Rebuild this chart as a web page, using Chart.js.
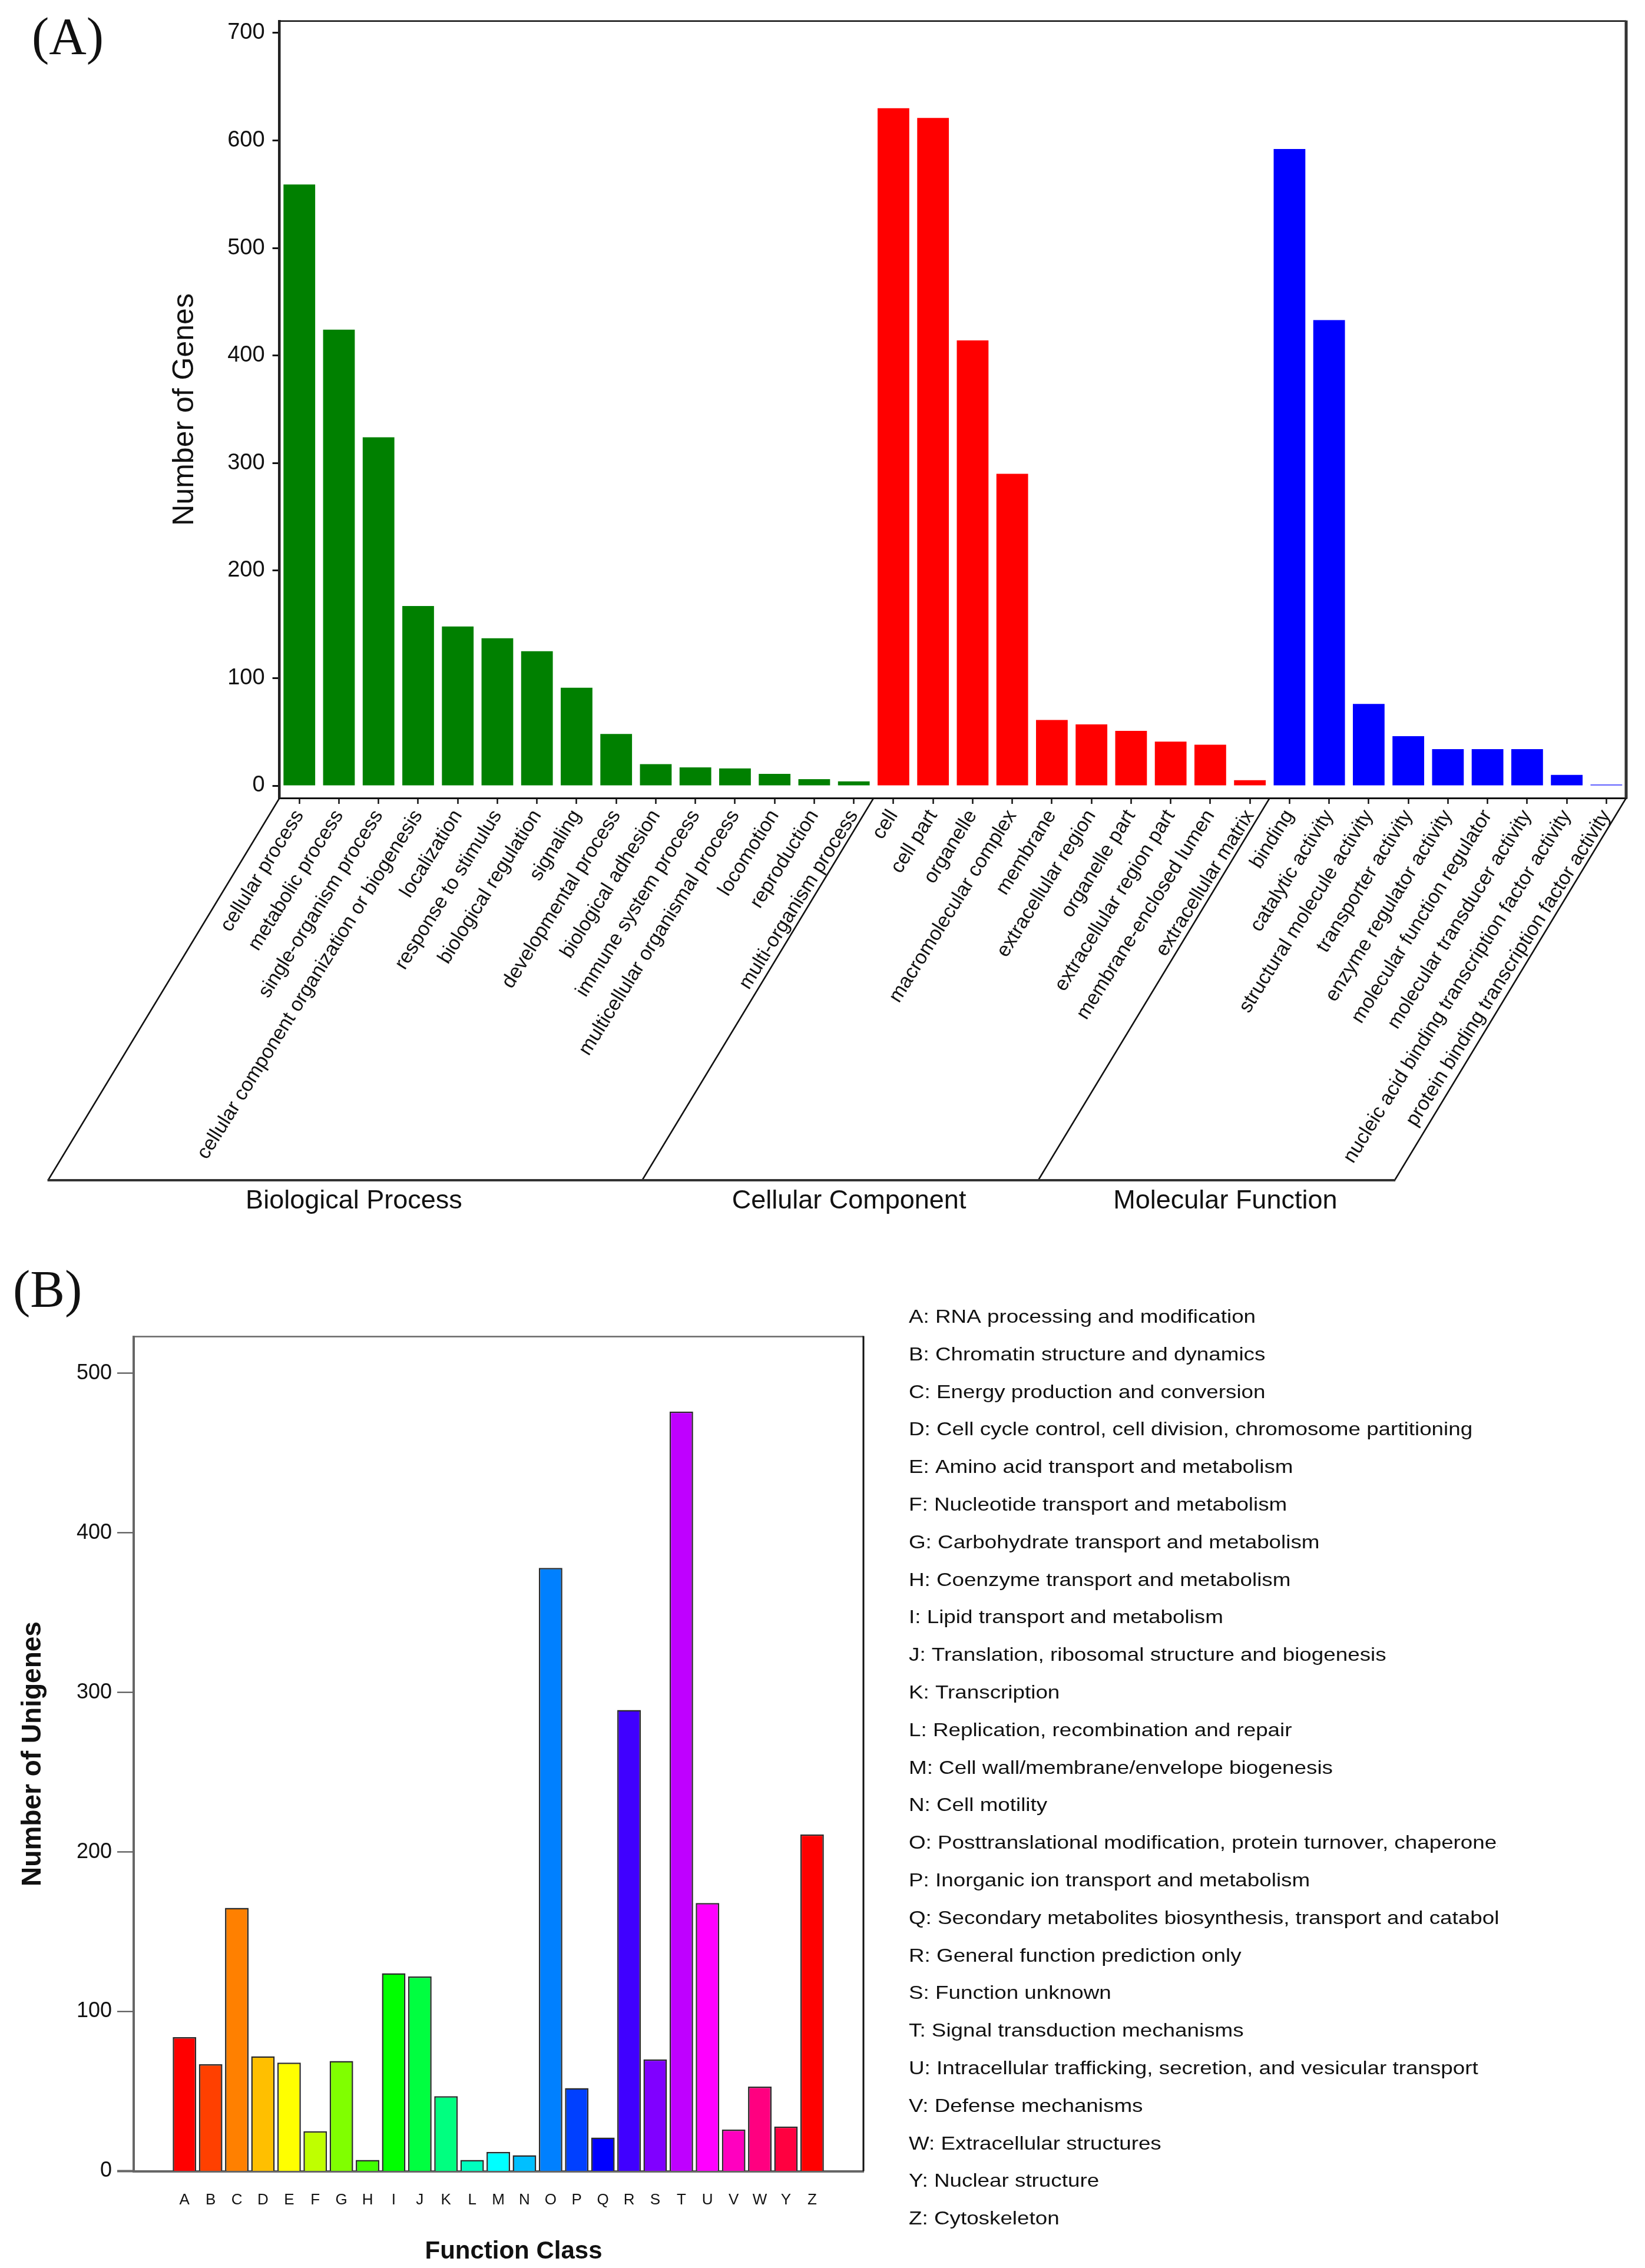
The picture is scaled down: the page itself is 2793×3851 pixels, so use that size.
<!DOCTYPE html>
<html><head><meta charset="utf-8">
<script src="https://cdn.jsdelivr.net/npm/chart.js@4.4.1/dist/chart.umd.min.js"></script>
<style>
html,body{margin:0;padding:0;background:#fff;}
#wrapA{position:absolute;left:0;top:0;width:2793px;height:2120px;}
#wrapB{position:absolute;left:0;top:2120px;width:2793px;height:1731px;}
canvas{display:block;}
</style></head><body>
<div id="wrapA"><canvas id="chartA" width="2793" height="2120" style="width:2793px;height:2120px"></canvas></div>
<div id="wrapB"><canvas id="chartB" width="2793" height="1731" style="width:2793px;height:1731px"></canvas></div>
<script>
// ---------- Panel A data (GO) ----------
const bpTerms = ['cellular process','metabolic process','single-organism process','cellular component organization or biogenesis','localization','response to stimulus','biological regulation','signaling','developmental process','biological adhesion','immune system process','multicellular organismal process','locomotion','reproduction','multi-organism process'];
const bpCounts = [559,424,324,167,148,137,125,91,48,20,17,16,11,6,4];
const ccTerms = ['cell','cell part','organelle','macromolecular complex','membrane','extracellular region','organelle part','extracellular region part','membrane-enclosed lumen','extracellular matrix'];
const ccCounts = [630,621,414,290,61,57,51,41,38,5];
const mfTerms = ['binding','catalytic activity','structural molecule activity','transporter activity','enzyme regulator activity','molecular function regulator','molecular transducer activity','nucleic acid binding transcription factor activity','protein binding transcription factor activity'];
const mfCounts = [592,433,76,46,34,34,34,10,1];
const goGroups = ['Biological Process','Cellular Component','Molecular Function'];
const goGroupColors = ['#008000','#ff0000','#0000ff'];
const goYTicks = [0,100,200,300,400,500,600,700];

// ---------- Panel B data (COG) ----------
const cogLetters = ['A','B','C','D','E','F','G','H','I','J','K','L','M','N','O','P','Q','R','S','T','U','V','W','Y','Z'];
const cogCounts = [84,67,165,72,68,25,69,7,124,122,47,7,12,10,378,52,21,289,70,476,168,26,53,28,211];
const cogNames = ['RNA processing and modification','Chromatin structure and dynamics','Energy production and conversion','Cell cycle control, cell division, chromosome partitioning','Amino acid transport and metabolism','Nucleotide transport and metabolism','Carbohydrate transport and metabolism','Coenzyme transport and metabolism','Lipid transport and metabolism','Translation, ribosomal structure and biogenesis','Transcription','Replication, recombination and repair','Cell wall/membrane/envelope biogenesis','Cell motility','Posttranslational modification, protein turnover, chaperones','Inorganic ion transport and metabolism','Secondary metabolites biosynthesis, transport and catabolism','General function prediction only','Function unknown','Signal transduction mechanisms','Intracellular trafficking, secretion, and vesicular transport','Defense mechanisms','Extracellular structures','Nuclear structure','Cytoskeleton'];
const cogColors = ['#ff0000','#ff4000','#ff8000','#ffbf00','#ffff00','#bfff00','#80ff00','#40ff00','#00ff00','#00ff40','#00ff80','#00ffbf','#00ffff','#00bfff','#0080ff','#0040ff','#0000ff','#4000ff','#8000ff','#bf00ff','#ff00ff','#ff00bf','#ff0080','#ff0040','#ff0000'];
const cogYTicks = [0,100,200,300,400,500];

const FONT = "'Liberation Sans', Arial, Helvetica, sans-serif";
const SERIF = "'Liberation Serif', 'Times New Roman', serif";
Chart.defaults.font.family = FONT;
Chart.defaults.color = '#111';

// build combined GO arrays
const goGroupTerms = [bpTerms, ccTerms, mfTerms];
const goGroupCounts = [bpCounts, ccCounts, mfCounts];
const goTerms = [].concat(...goGroupTerms);
const goCounts = [].concat(...goGroupCounts);
const goGroupSizes = goGroupTerms.map(t => t.length);
const goColors = [];
goGroupTerms.forEach((t, g) => t.forEach(() => goColors.push(goGroupColors[g])));

const decorA = {
  id: 'decorA',
  afterDraw(chart) {
    const {ctx, chartArea: ca, scales: {x}} = chart;
    ctx.save();
    ctx.strokeStyle = '#111'; ctx.lineWidth = 2.5;
    ctx.beginPath(); ctx.moveTo(ca.left, ca.top); ctx.lineTo(ca.right, ca.top); ctx.stroke();
    ctx.strokeStyle = '#333'; ctx.lineWidth = 5;
    ctx.beginPath(); ctx.moveTo(ca.right, ca.top - 1); ctx.lineTo(ca.right, ca.bottom + 1.5); ctx.stroke();
    const shift = 393, yb = 2004;
    const bounds = [ca.left];
    let start = 0;
    goGroupSizes.forEach((n, g) => {
      start += n;
      bounds.push(g === goGroupSizes.length - 1 ? ca.right : x.getPixelForValue(start - 0.5));
    });
    ctx.strokeStyle = '#111'; ctx.lineWidth = 2.5;
    bounds.forEach(b => { ctx.beginPath(); ctx.moveTo(b, ca.bottom); ctx.lineTo(b - shift, yb); ctx.stroke(); });
    ctx.strokeStyle = '#333'; ctx.lineWidth = 4;
    ctx.beginPath(); ctx.moveTo(bounds[0] - shift - 1, yb); ctx.lineTo(bounds[bounds.length - 1] - shift + 1, yb); ctx.stroke();
    ctx.fillStyle = '#111'; ctx.font = '45px ' + FONT; ctx.textAlign = 'center'; ctx.textBaseline = 'alphabetic';
    goGroups.forEach((g, i) => { ctx.fillText(g, (bounds[i] + bounds[i + 1]) / 2 - shift + 15, 2052); });
    ctx.font = '88px ' + SERIF; ctx.textAlign = 'left';
    ctx.fillText('(A)', 54, 91);
    ctx.restore();
  }
};

new Chart(document.getElementById('chartA'), {
  type: 'bar',
  data: { labels: goTerms, datasets: [{ data: goCounts, backgroundColor: goColors, borderWidth: 0, barPercentage: 0.8, categoryPercentage: 1.0 }] },
  options: {
    responsive: false, maintainAspectRatio: false, animation: false, devicePixelRatio: 1,
    layout: { padding: { left: 280, top: 31, right: 32, bottom: 0 } },
    plugins: { legend: { display: false }, tooltip: { enabled: false } },
    scales: {
      x: {
        type: 'category', offset: true,
        grid: { display: true, offset: false, drawOnChartArea: false, drawTicks: true, tickLength: 10, tickWidth: 2.5, tickColor: '#111' },
        border: { display: true, width: 3, color: '#111' },
        ticks: { autoSkip: false, minRotation: 58, maxRotation: 58, padding: 7, color: '#111', font: { family: FONT, size: 34, lineHeight: 0.75 } },
        afterFit: s => { s.height = 2120 - 1355; }
      },
      y: {
        min: -11.5, max: 711,
        afterBuildTicks: s => { s.ticks = goYTicks.map(v => ({ value: v })); },
        grid: { drawOnChartArea: false, drawTicks: true, tickLength: 12, tickWidth: 3, tickColor: '#111' },
        border: { display: true, width: 4.5, color: '#222' },
        ticks: { padding: 13, color: '#111', font: { family: FONT, size: 38 } },
        title: { display: true, text: 'Number of Genes', color: '#111', font: { family: FONT, size: 50 }, padding: { top: 4, bottom: 0 } },
        afterFit: s => { s.width = 474.6 - 280; }
      }
    }
  },
  plugins: [decorA]
});

const decorB = {
  id: 'decorB',
  afterDraw(chart) {
    const {ctx, chartArea: ca, scales: {y}} = chart;
    ctx.save();
    ctx.strokeStyle = '#666'; ctx.lineWidth = 2.5;
    ctx.beginPath(); ctx.moveTo(ca.left, ca.top); ctx.lineTo(ca.right, ca.top); ctx.stroke();
    ctx.strokeStyle = '#111'; ctx.lineWidth = 3;
    ctx.beginPath(); ctx.moveTo(ca.right, ca.top - 1); ctx.lineTo(ca.right, ca.bottom); ctx.stroke();
    const y0 = y.getPixelForValue(0);
    ctx.strokeStyle = '#666'; ctx.lineWidth = 4;
    ctx.beginPath(); ctx.moveTo(ca.left - 28, y0); ctx.lineTo(ca.left, y0); ctx.stroke();
    ctx.fillStyle = '#111'; ctx.textBaseline = 'alphabetic';
    ctx.font = 'bold 42px ' + FONT; ctx.textAlign = 'center';
    ctx.fillText('Function Class', 872, 1715);
    ctx.font = '88px ' + SERIF; ctx.textAlign = 'left';
    ctx.fillText('(B)', 22, 98);
    ctx.beginPath(); ctx.rect(1500, 0, 2543 - 1500, chart.height); ctx.clip();
    ctx.font = '32px ' + FONT; ctx.textAlign = 'left'; ctx.fillStyle = '#111';
    cogLetters.forEach((l, i) => {
      ctx.save(); ctx.translate(1543, 126 + i * 63.8); ctx.scale(1.15, 1);
      ctx.fillText(l + ': ' + cogNames[i], 0, 0);
      ctx.restore();
    });
    ctx.restore();
  }
};

new Chart(document.getElementById('chartB'), {
  type: 'bar',
  data: { datasets: [{ data: cogCounts.map((v, i) => ({ x: i, y: v })), backgroundColor: cogColors, borderColor: '#2a2a2a', borderWidth: 2.5, barPercentage: 0.9, categoryPercentage: 1.0 }] },
  options: {
    responsive: false, maintainAspectRatio: false, animation: false, devicePixelRatio: 1,
    layout: { padding: { left: 0, top: 149.5, right: 2793 - 1466, bottom: 0 } },
    plugins: { legend: { display: false }, tooltip: { enabled: false } },
    scales: {
      x: {
        type: 'linear', min: -1.384, max: 25.405,
        afterBuildTicks: s => { s.ticks = cogLetters.map((l, i) => ({ value: i })); },
        grid: { display: false, drawTicks: false },
        border: { display: true, width: 4, color: '#666' },
        ticks: { autoSkip: false, minRotation: 0, maxRotation: 0, padding: 34, color: '#111', font: { family: FONT, size: 26 }, callback: v => cogLetters[v] },
        afterFit: s => { s.height = 1731 - 1566.5; }
      },
      y: {
        min: 0, max: 523,
        afterBuildTicks: s => { s.ticks = cogYTicks.map(v => ({ value: v })); },
        grid: { drawOnChartArea: false, drawTicks: true, tickLength: 28, tickWidth: 2, tickColor: '#444' },
        border: { display: true, width: 4, color: '#666' },
        ticks: { padding: 9, color: '#111', font: { family: FONT, size: 36 } },
        title: { display: true, text: 'Number of Unigenes', color: '#111', font: { family: FONT, size: 46, weight: 'bold' }, padding: { top: 29, bottom: 0 } },
        afterFit: s => { s.width = 227; }
      }
    }
  },
  plugins: [decorB]
});
</script>
</body></html>
